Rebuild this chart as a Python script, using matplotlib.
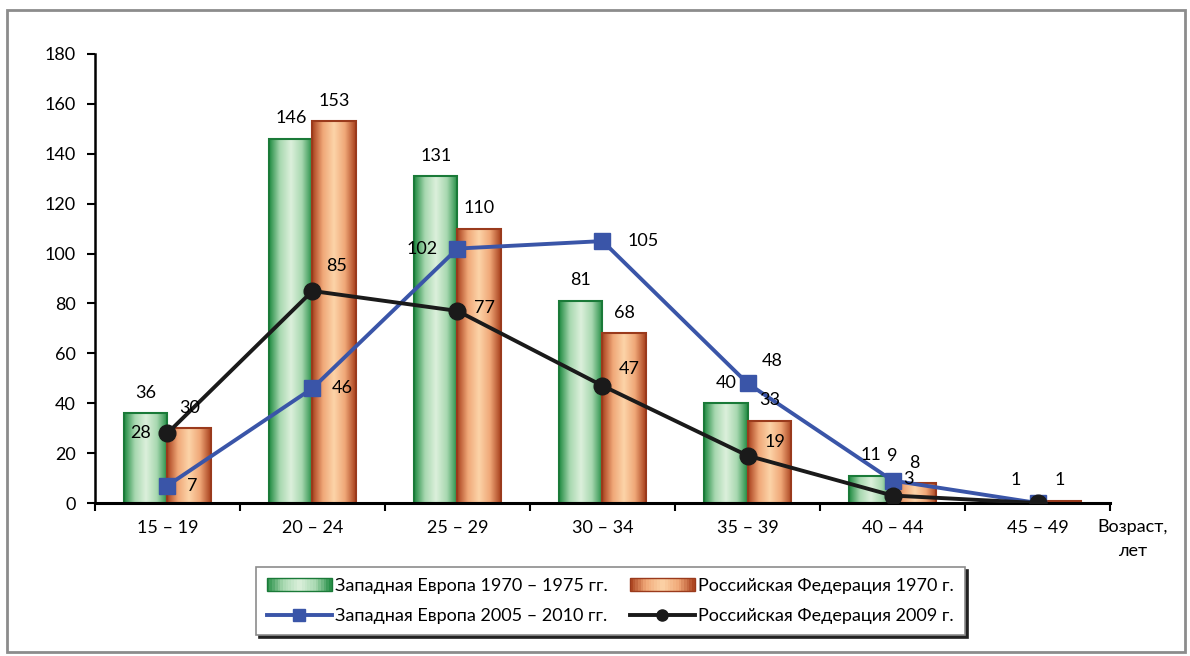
import numpy as np
import matplotlib
matplotlib.use("Agg")
import matplotlib.pyplot as plt
from matplotlib.patches import Rectangle
from matplotlib.legend_handler import HandlerBase
from matplotlib.lines import Line2D
from matplotlib.colors import LinearSegmentedColormap

plt.rcParams['font.family'] = ['Lato', 'DejaVu Sans']

categories = ["15 – 19", "20 – 24", "25 – 29", "30 – 34", "35 – 39", "40 – 44", "45 – 49"]
we_1970 = [36, 146, 131, 81, 40, 11, 1]
rf_1970 = [30, 153, 110, 68, 33, 8, 1]
we_2005 = [7, 46, 102, 105, 48, 9, 0]
rf_2009 = [28, 85, 77, 47, 19, 3, 0]
series_names = ["Западная Европа 1970 – 1975 гг.", "Российская Федерация 1970 г.",
                "Западная Европа 2005 – 2010 гг.", "Российская Федерация 2009 г."]
yticks = [0, 20, 40, 60, 80, 100, 120, 140, 160, 180]

green_cmap = LinearSegmentedColormap.from_list("g", ["#1e8a40", "#a8d8b0", "#dcf0dc", "#a8d8b0", "#1e8a40"])
orange_cmap = LinearSegmentedColormap.from_list("o", ["#a8401c", "#f0a878", "#fcd4a8", "#f0a878", "#a8401c"])
green_edge = "#1a7a38"
orange_edge = "#9a3a1c"
blue = "#3a55a8"
black = "#1a1a1a"

fig = plt.figure(figsize=(11.9, 6.56), dpi=100)
fig.patches.append(Rectangle((0.006, 0.006), 0.99, 0.979, transform=fig.transFigure,
                             fill=False, edgecolor="#8c8c8c", linewidth=2))
ax = fig.add_axes([0.0798, 0.2332, 0.853, 0.6845])

x = np.arange(len(categories))
w = 0.3
grad = np.linspace(0, 1, 256).reshape(1, -1)

def grad_bars(xs, vals, cmap, edge):
    bars = ax.bar(xs, vals, w, facecolor="none", edgecolor=edge, linewidth=1.5, zorder=3)
    for b in bars:
        x0, y0 = b.get_x(), b.get_y()
        bw, bh = b.get_width(), b.get_height()
        if bh <= 0:
            continue
        im = ax.imshow(grad, cmap=cmap, extent=[x0, x0 + bw, y0, y0 + bh],
                       aspect='auto', zorder=2, interpolation='bicubic')
        im.set_clip_path(b)
    return bars

grad_bars(x - w / 2, we_1970, green_cmap, green_edge)
grad_bars(x + w / 2, rf_1970, orange_cmap, orange_edge)

ax.plot(x, we_2005, color=blue, lw=2.8, marker='s', ms=11, zorder=5)
ax.plot(x, rf_2009, color=black, lw=2.8, marker='o', ms=12, zorder=6)

fs = 13
for i in range(len(x)):
    ax.text(x[i] - w / 2, we_1970[i] + 5, str(we_1970[i]), ha='center', va='bottom', fontsize=fs, zorder=7)
    ax.text(x[i] + w / 2, rf_1970[i] + 5, str(rf_1970[i]), ha='center', va='bottom', fontsize=fs, zorder=7)

# line labels (offsets in points)
blue_off = [(14, 0, 'left'), (14, 0, 'left'), (-14, 0, 'right'), (18, 0, 'left'),
            (10, 10, 'left'), (0, 12, 'center'), None]
black_off = [(-12, 0, 'right'), (10, 12, 'left'), (12, 2, 'left'), (12, 6, 'left'),
             (12, 4, 'left'), (8, 6, 'left'), None]
for i in range(len(x)):
    o = blue_off[i]
    if o:
        ax.annotate(str(we_2005[i]), (x[i], we_2005[i]), xytext=(o[0], o[1]), textcoords='offset points',
                    ha=o[2], va='center' if o[1] == 0 else 'bottom', fontsize=fs, zorder=8)
    o = black_off[i]
    if o:
        ax.annotate(str(rf_2009[i]), (x[i], rf_2009[i]), xytext=(o[0], o[1]), textcoords='offset points',
                    ha=o[2], va='center' if o[1] <= 2 else 'bottom', fontsize=fs, zorder=8)

ax.set_xlim(-0.5, len(x) - 0.5)
ax.set_ylim(0, 180)
ax.set_yticks(yticks)
ax.set_xticks(x)
ax.set_xticklabels(categories)
ax.set_xticks(np.arange(-0.5, len(x)), minor=True)
ax.tick_params(axis='x', which='major', length=0, pad=12, labelsize=fs)
ax.tick_params(axis='x', which='minor', length=6, width=1.5, direction='out')
ax.tick_params(axis='y', length=6, width=1.5, direction='out', pad=8, labelsize=fs)
for s in ['top', 'right']:
    ax.spines[s].set_visible(False)
ax.spines['left'].set_linewidth(1.8)
ax.spines['bottom'].set_linewidth(2.2)
ax.spines['bottom'].set_zorder(4)

fig.text(0.952, 0.196, "Возраст,", ha='center', va='center', fontsize=fs)
fig.text(0.952, 0.160, "лет", ha='center', va='center', fontsize=fs)

class GradHandler(HandlerBase):
    def __init__(self, cmap, edge):
        super().__init__()
        self.cmap, self.edge = cmap, edge
    def create_artists(self, legend, orig_handle, xd, yd, width, height, fontsize, trans):
        arts = []
        n = 24
        for k in range(n):
            arts.append(Rectangle((xd * -1 + width * k / n, -yd), width / n + 0.3, height,
                                  facecolor=self.cmap((k + 0.5) / n), edgecolor='none', transform=trans))
        arts.append(Rectangle((-xd, -yd), width, height, facecolor='none', edgecolor=self.edge,
                              lw=1, transform=trans))
        return arts

h1 = Rectangle((0, 0), 1, 1)
h2 = Rectangle((0, 0), 1, 1, label='b')
h3 = Line2D([], [], color=blue, lw=2.8, marker='s', ms=8)
h4 = Line2D([], [], color=black, lw=2.8, marker='o', ms=8)
leg = fig.legend([h1, h3, h2, h4], [series_names[0], series_names[2], series_names[1], series_names[3]],
                 ncol=2, loc='center', bbox_to_anchor=(0.513, 0.084), fontsize=fs,
                 handler_map={h1: GradHandler(green_cmap, green_edge), h2: GradHandler(orange_cmap, orange_edge)},
                 frameon=True, fancybox=False, shadow={'color': '#222222', 'alpha': 1},
                 edgecolor='#8c8c8c', handlelength=3.6, handletextpad=0.2, columnspacing=1.2,
                 labelspacing=0.8, borderpad=0.6)
leg.get_frame().set_linewidth(1.2)

fig.savefig("out.png", dpi=100)
